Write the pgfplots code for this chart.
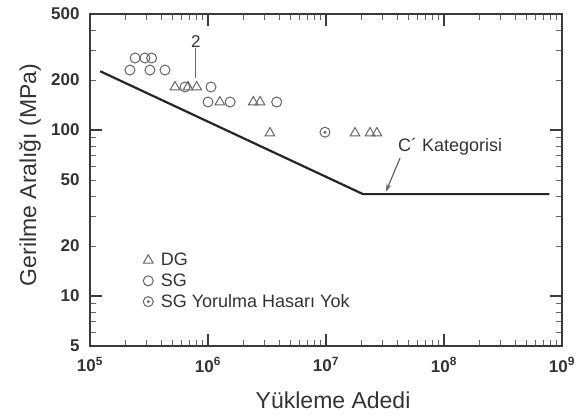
\documentclass[border=0pt]{standalone}
\usepackage{fontspec}
\setmainfont{Liberation Sans}
\usepackage{pgfplots}
\pgfplotsset{compat=1.18}
\usetikzlibrary{arrows.meta}
\definecolor{axc}{HTML}{3A3A3A}
\definecolor{mkc}{HTML}{666666}
\definecolor{txc}{HTML}{333333}
\begin{document}
\begin{tikzpicture}
\path[use as bounding box] (-90pt,-73pt) rectangle (489pt,346pt);
\begin{axis}[
  at={(0,0)}, anchor=south west,
  scale only axis, width=472pt, height=332pt,
  xmode=log, ymode=log,
  xmin=1e5, xmax=1e9, ymin=5, ymax=500,
  xtick={1e5,1e6,1e7,1e8,1e9},
  xticklabels={10\textsuperscript{5},10\textsuperscript{6},10\textsuperscript{7},10\textsuperscript{8},10\textsuperscript{9}},
  minor xtick={2e5,3e5,4e5,5e5,6e5,7e5,8e5,9e5,2e6,3e6,4e6,5e6,6e6,7e6,8e6,9e6,2e7,3e7,4e7,5e7,6e7,7e7,8e7,9e7,2e8,3e8,4e8,5e8,6e8,7e8,8e8,9e8},
  ytick={10,100},
  yticklabels={10,100},
  extra y ticks={5,20,50,200,500},
  extra y tick labels={5,20,50,200,500},
  extra tick style={major tick length=0pt},
  minor ytick={6,7,8,9,20,30,40,50,60,70,80,90,200,300,400},
  major tick length=12pt, minor tick length=6pt,
  major tick style={color=axc, line width=1.2pt},
  minor tick style={color=mkc, line width=0.8pt},
  axis line style={color=axc, line width=1.3pt},
  ticklabel style={font=\bfseries\fontsize{17}{17}\selectfont, text=txc},
  xticklabel style={yshift=-8pt},
  yticklabel style={xshift=-7pt},
  xlabel={Yükleme Adedi},
  ylabel={Gerilme Aralığı (MPa)},
  label style={font=\fontsize{23}{23}\selectfont, text=txc},
  xlabel style={at={(axis description cs:0.515,-0.163)}, anchor=center},
  ylabel style={at={(axis description cs:-0.127,0.515)}, anchor=center},
  legend style={draw=none, fill=none, at={(axis description cs:0.105,0.292)}, anchor=north west,
    font=\fontsize{18}{18}\selectfont, text=txc, row sep=2.5pt,
    /tikz/every odd column/.append style={column sep=5pt}},
  legend cell align=left,
]
\addplot[only marks, mark=triangle, mark size=5.5pt, mark options={draw=mkc, line width=1pt}] coordinates {
  (5.25e5,181.6) (6.77e5,181.6) (8.02e5,181.6) (1.26e6,147.5) (2.42e6,147.5) (2.76e6,147.5)
  (3.35e6,95.9) (1.76e7,95.9) (2.36e7,95.9) (2.70e7,95.9)};
\addlegendentry{DG}
\addplot[only marks, mark=o, mark size=5pt, mark options={draw=mkc, line width=1pt}] coordinates {
  (2.18e5,229.8) (2.41e5,271.6) (2.92e5,271.6) (3.33e5,271.6) (3.22e5,229.8) (4.32e5,229.8)
  (6.38e5,181.6) (1.06e6,181.6) (1.0e6,147.5) (1.54e6,147.5) (3.82e6,147.5)};
\addlegendentry{SG}
\addplot[only marks, mark=o, mark size=5pt, mark options={draw=mkc, line width=1pt},
  legend image code/.code={\draw[mkc, line width=1pt] (0.3cm,0cm) circle[radius=5pt]; \fill[mkc] (0.3cm,0cm) circle[radius=1.3pt];}] coordinates {(9.8e6,97)};
\addlegendentry{SG Yorulma Hasarı Yok}
\addplot[only marks, mark=*, mark size=1.3pt, mark options={fill=mkc, draw=mkc}, forget plot] coordinates {(9.8e6,97)};
\addplot[color=black!85, line width=2.2pt, no marks, forget plot] coordinates {(1.22e5,226) (2.06e7,41.1) (7.8e8,41.1)};
\node[font=\fontsize{17}{17}\selectfont, text=txc] at (axis cs:7.9e5,339) {2};
\draw[mkc, line width=1pt] (axis cs:7.9e5,312) -- (axis cs:7.9e5,206);
\node[anchor=west, font=\fontsize{18}{18}\selectfont, text=txc, inner sep=0pt] at (axis cs:4.07e7,79) {C´ Kategorisi};
\draw[mkc, line width=1.2pt, -{Stealth[length=8pt,width=5pt]}] (axis cs:4.24e7,67.8) -- (axis cs:3.22e7,42.5);
\end{axis}
\end{tikzpicture}
\end{document}
